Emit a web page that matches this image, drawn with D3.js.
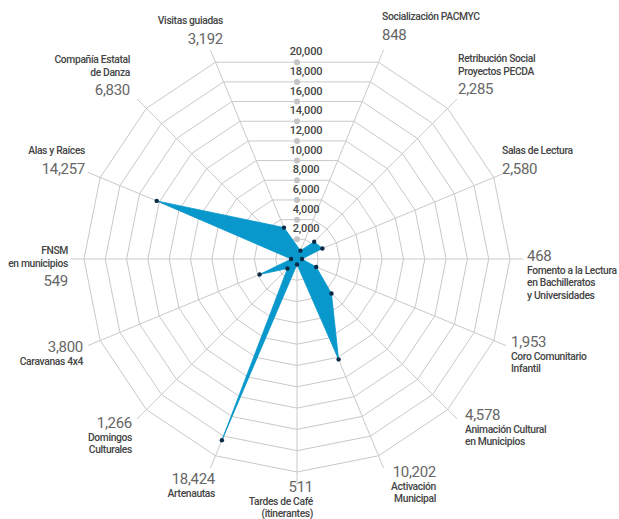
<!DOCTYPE html>
<html>
<head>
<meta charset="utf-8">
<script src="https://cdn.jsdelivr.net/npm/d3@7"></script>
<style>
  body { margin: 0; background: #fff; }
  svg text { font-family: Roboto, "Noto Sans", sans-serif; }
</style>
</head>
<body>
<div id="chart"></div>
<script>
// programs, clockwise from the top (slot 0 at the top holds the scale only)
var names = [
  ["Socialización PACMYC"],
  ["Retribución Social", "Proyectos PECDA"],
  ["Salas de Lectura"],
  ["Fomento a la Lectura", "en Bachilleratos", "y Universidades"],
  ["Coro Comunitario", "Infantil"],
  ["Animación Cultural", "en Municipios"],
  ["Activación", "Municipal"],
  ["Tardes de Café", "(itinerantes)"],
  ["Artenautas"],
  ["Domingos", "Culturales"],
  ["Caravanas 4x4"],
  ["FNSM", "en municipios"],
  ["Alas y Raíces"],
  ["Compañía Estatal", "de Danza"],
  ["Visitas guiadas"]
];
var values = [848, 2285, 2580, 468, 1953, 4578, 10202, 511, 18424, 1266, 3800, 549, 14257, 6830, 3192];
// the original shape has no vertex for Compañía Estatal de Danza
var plotted = [848, 2285, 2580, 468, 1953, 4578, 10202, 511, 18424, 1266, 3800, 549, 14257, null, 3192];
var ticks = [2000, 4000, 6000, 8000, 10000, 12000, 14000, 16000, 18000, 20000];

// label placement: x, baseline of first line, text-anchor, number shown first
var labelPos = [
  {x: 382, y: 20, a: "start", numFirst: false},
  {x: 458, y: 62, a: "start", numFirst: false},
  {x: 502, y: 154, a: "start", numFirst: false},
  {x: 527, y: 261, a: "start", numFirst: true},
  {x: 511, y: 347, a: "start", numFirst: true},
  {x: 465, y: 420, a: "start", numFirst: true},
  {x: 436, y: 477, a: "end", numFirst: true},
  {x: 313, y: 492, a: "end", numFirst: true},
  {x: 215, y: 484, a: "end", numFirst: true},
  {x: 132, y: 428, a: "end", numFirst: true},
  {x: 83, y: 352, a: "end", numFirst: true},
  {x: 68, y: 254, a: "end", numFirst: false},
  {x: 85, y: 154, a: "end", numFirst: false},
  {x: 130, y: 63, a: "end", numFirst: false},
  {x: 223, y: 24, a: "end", numFirst: false}
];

var width = 619, height = 519;
var cx = 297, cy = 259;
var fmt = d3.format(",");

var svg = d3.select("#chart").append("svg")
  .attr("width", width)
  .attr("height", height)
  .append("g")
  .attr("transform", "translate(" + cx + "," + cy + ")");

var r = d3.scaleLinear().domain([0, 20000]).range([0, 213]);
var angle = d3.scaleLinear().domain([0, 16]).range([0, 2 * Math.PI]);

function pt(i, v) {
  var a = angle(i + 1);
  return [r(v) * Math.sin(a), -r(v) * Math.cos(a)];
}

// rings
var ring = d3.line().curve(d3.curveLinearClosed);
svg.append("g").selectAll("path")
  .data(ticks)
  .enter().append("path")
  .attr("d", function(t) { return ring(values.map(function(v, i) { return pt(i, t); })); })
  .attr("fill", "none")
  .attr("stroke", "#c9c9c9")
  .attr("stroke-width", 1);

// spokes
svg.append("g").selectAll("line")
  .data(values)
  .enter().append("line")
  .attr("x1", 0).attr("y1", 0)
  .attr("x2", function(v, i) { return pt(i, 21250)[0]; })
  .attr("y2", function(v, i) { return pt(i, 21250)[1]; })
  .attr("stroke", "#c9c9c9")
  .attr("stroke-width", 1);

// scale on the vertical
var mid = Math.cos(angle(1));
var tg = svg.append("g").selectAll("g")
  .data(ticks)
  .enter().append("g")
  .attr("transform", function(t) { return "translate(0," + (-r(t) * mid) + ")"; });
tg.append("circle").attr("r", 3).attr("fill", "#c4c4c4");
tg.append("text")
  .attr("x", 9).attr("y", -7)
  .attr("text-anchor", "middle")
  .attr("font-size", 11)
  .attr("letter-spacing", -0.2)
  .attr("font-weight", 500)
  .attr("fill", "#444")
  .text(function(t) { return fmt(t); });

// data shape
var pts = [];
plotted.forEach(function(v, i) { if (v != null) pts.push(pt(i, v)); });

svg.append("path")
  .attr("d", ring(pts))
  .attr("fill", "#0898cc")
  .attr("stroke", "#0898cc")
  .attr("stroke-width", 0.8);

svg.append("g").selectAll("circle")
  .data(pts)
  .enter().append("circle")
  .attr("cx", function(p) { return p[0]; })
  .attr("cy", function(p) { return p[1]; })
  .attr("r", 2.2)
  .attr("fill", "#0c2a46");

// labels
var lab = d3.select("svg").append("g");
names.forEach(function(lines, i) {
  var p = labelPos[i];
  var t = lab.append("text")
    .attr("text-anchor", p.a)
    .attr("x", p.x);
  var items = lines.map(function(s) { return {s: s, num: false}; });
  var numItem = {s: fmt(values[i]), num: true};
  if (p.numFirst) items.unshift(numItem); else items.push(numItem);
  var y = p.y;
  items.forEach(function(it, k) {
    if (k > 0) {
      var prev = items[k - 1];
      y += (!prev.num && it.num) ? 19.5 : 12.5;
    }
    t.append("tspan")
      .attr("x", p.x)
      .attr("y", y)
      .attr("font-size", it.num ? 15 : 10.3)
      .attr("letter-spacing", it.num ? -0.3 : -0.35)
      .attr("font-weight", it.num ? 400 : 500)
      .attr("fill", it.num ? "#666" : "#444")
      .text(it.s);
  });
});
</script>
</body>
</html>
